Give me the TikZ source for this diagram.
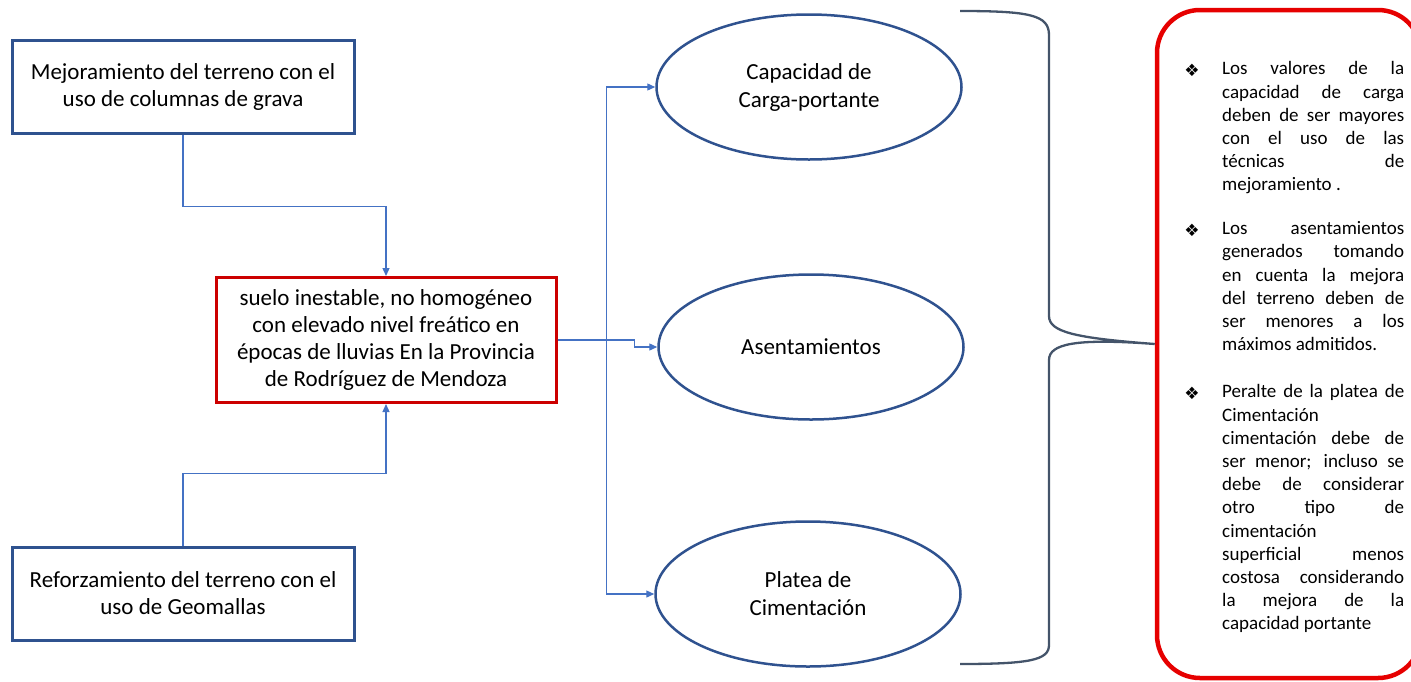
\documentclass[tikz,border=0pt]{standalone}
\usepackage{fontspec}
\setmainfont{Carlito}
\newfontfamily\symfont{DejaVu Sans}
\usetikzlibrary{shapes.geometric,arrows.meta}
\definecolor{boxblue}{HTML}{2F528F}
\definecolor{linkblue}{HTML}{4472C4}
\definecolor{boxred}{RGB}{204,0,0}
\definecolor{notered}{RGB}{230,0,0}
\definecolor{bracegray}{HTML}{44546A}

\begin{document}
\begin{tikzpicture}[x=1pt,y=-1pt,
  blockbox/.style={draw=boxblue,line width=3pt,minimum width=342pt,minimum height=93pt,
    inner sep=0pt,align=center,font=\fontsize{23}{27}\selectfont},
  mainbox/.style={draw=boxred,line width=3pt,minimum width=340pt,minimum height=125pt,
    inner sep=0pt,align=center,font=\fontsize{23}{27}\selectfont},
  oval/.style={draw=boxblue,ellipse,line width=2.5pt,minimum width=305pt,minimum height=145pt,
    inner sep=0pt,align=center,font=\fontsize{23}{28}\selectfont},
  notebox/.style={draw=notered,line width=4.5pt,rounded corners=43pt,minimum width=264pt,
    minimum height=668pt,inner sep=0pt},
  link/.style={draw=linkblue,line width=1.3pt,-{Triangle[length=8pt,width=7pt]}},
  notetext/.style={text width=182pt,align=justify,anchor=north west,inner sep=0pt,
    font=\fontsize{19}{23.2}\selectfont},
  bul/.style={inner sep=0pt,font=\symfont\fontsize{17}{17}\selectfont}]

  \useasboundingbox (0,0) rectangle (1411,681);
  \clip (0,0) rectangle (1411,681);

  \draw (183,86.5) node[blockbox] (mej) {Mejoramiento del terreno con el\\uso de columnas de grava};
\draw (183,593.5) node[blockbox] (ref) {Reforzamiento del terreno con el\\uso de Geomallas};
\draw (386,340) node[mainbox] (suelo) {suelo inestable, no homogéneo\\con elevado nivel freático en\\épocas de lluvias En la Provincia\\de Rodríguez de Mendoza};

  \draw (809,87) node[oval] (cap) {Capacidad de\\Carga-portante};
\draw (811,347) node[oval] (asen) {Asentamientos};
\draw (808,594) node[oval] (plat) {Platea de\\Cimentación};

  \draw (1289,344) node[notebox] (note) {};

  \draw[link] (mej.south) -- ++(0,72) -| (suelo.north);
  \draw[link] (ref.north) -- ++(0,-72) -| (suelo.south);
  \draw[link] (suelo.east) -- ++(49,0) |- (cap.west);
  \draw[link] (suelo.east) -- ++(77,0) |- (asen.west);
  \draw[link] (suelo.east) -- ++(49,0) |- (plat.west);

  % llave
  \draw[bracegray,line width=2.3pt] (960,11) .. controls (1030,11) and (1049,15) .. (1049,35)
  -- (1049,316) .. controls (1049,332) and (1075,338) .. (note.west)
  .. controls (1075,338) and (1049,344) .. (1049,360)
  -- (1049,645) .. controls (1049,660) and (1030,664) .. (960,664);

  \draw (1192,70) node[bul] (b1) {❖};
\draw (1192,230) node[bul] (b2) {❖};
\draw (1192,393) node[bul] (b3) {❖};

  \tolerance=10000 \hbadness=10000 \hyphenpenalty=10000
  \draw (1222,61.5) node[notetext] (t1) {Los valores de la\linebreak capacidad de carga\linebreak
    deben de ser mayores\linebreak con el uso de las\linebreak técnicas de\linebreak mejoramiento .};
  \draw (1222,221.5) node[notetext] (t2) {Los asentamientos\linebreak generados tomando\linebreak
    en cuenta la mejora\linebreak del terreno deben de\linebreak ser menores a los\linebreak máximos admitidos.};
  \draw (1222,384.5) node[notetext] (t3) {Peralte de la platea de\linebreak Cimentación\newline
    cimentación debe de\linebreak ser menor; incluso se\linebreak debe de considerar\linebreak
    otro tipo de\linebreak cimentación\newline superficial menos\linebreak costosa considerando\linebreak
    la mejora de la\linebreak capacidad portante};

\end{tikzpicture}
\end{document}
